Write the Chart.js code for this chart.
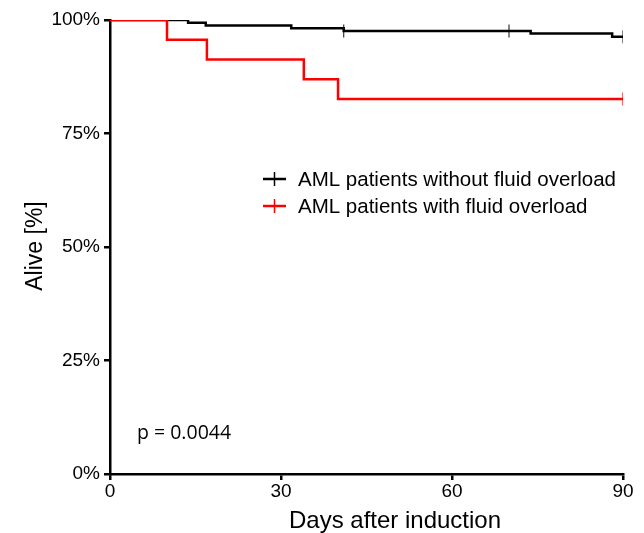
<!DOCTYPE html>
<html><head><meta charset="utf-8">
<script src="https://cdn.jsdelivr.net/npm/chart.js@4/dist/chart.umd.min.js"></script>
<style>html,body{margin:0;padding:0;background:#fff}#wrap{width:644px;height:533px}</style>
</head><body><div id="wrap"><canvas id="c" width="644" height="533"></canvas></div>
<script>
// Data
const seriesNames = ["AML patients without fluid overload", "AML patients with fluid overload"];
const noOverloadDays = [0, 13.7, 16.8, 31.8, 41, 73.8, 88.1, 90];
const noOverloadSurv = [100, 99.4, 98.8, 98.2, 97.6, 97.0, 96.3, 96.3];
const noOverloadCensorDays = [41, 70, 90];
const noOverloadCensorSurv = [97.6, 97.6, 96.3];
const overloadDays = [0, 10, 17, 34, 40, 90];
const overloadSurv = [100, 95.65, 91.3, 86.96, 82.61, 82.61];
const overloadCensorDays = [90];
const overloadCensorSurv = [82.61];
const xTicks = [0, 30, 60, 90];
const yTicks = [0, 25, 50, 75, 100];
const pValueText = "p = 0.0044";
const xTitle = "Days after induction";
const yTitle = "Alive [%]";

const pts = (xs, ys) => xs.map((x, i) => ({x: x, y: ys[i]}));
const FONT = '"Liberation Sans", Arial, Helvetica, sans-serif';

const overlay = {
  id: 'overlay',
  afterDraw(chart) {
    const ctx = chart.ctx;
    ctx.save();
    // legend
    const items = [[seriesNames[0], '#000000', 179], [seriesNames[1], '#ff0000', 206]];
    items.forEach(([t, col, y]) => {
      ctx.strokeStyle = col; ctx.lineWidth = 2.5;
      ctx.beginPath(); ctx.moveTo(263, y); ctx.lineTo(286, y); ctx.stroke();
      ctx.lineWidth = 1.5;
      ctx.beginPath(); ctx.moveTo(274.5, y - 7); ctx.lineTo(274.5, y + 7); ctx.stroke();
      ctx.fillStyle = '#000'; ctx.font = '20.5px ' + FONT;
      ctx.textBaseline = 'alphabetic'; ctx.textAlign = 'left';
      ctx.fillText(t, 298, y + 7);
    });
    // p-value
    ctx.font = '19.5px "Open Sans", sans-serif';
    ctx.fillText(pValueText, 137, 439);
    // axis titles
    ctx.font = '24px ' + FONT; ctx.textAlign = 'center';
    ctx.fillText(xTitle, 395, 528);
    ctx.font = '23px ' + FONT;
    ctx.translate(42, 246); ctx.rotate(-Math.PI / 2);
    ctx.fillText(yTitle, 0, 0);
    ctx.restore();
  }
};

new Chart(document.getElementById('c'), {
  type: 'line',
  data: {
    datasets: [
      {label: seriesNames[0], data: pts(noOverloadDays, noOverloadSurv), borderColor: '#000', borderWidth: 2.5, stepped: true, pointRadius: 0, fill: false, order: 2},
      {label: seriesNames[1], data: pts(overloadDays, overloadSurv), borderColor: '#ff0000', borderWidth: 2.5, stepped: true, pointRadius: 0, fill: false, order: 1},
      {label: 'c1', data: pts(noOverloadCensorDays, noOverloadCensorSurv), showLine: false, pointStyle: 'line', rotation: 90, pointRadius: 6.5, borderColor: '#333', borderWidth: 1.2, order: 3},
      {label: 'c2', data: pts(overloadCensorDays, overloadCensorSurv), showLine: false, pointStyle: 'line', rotation: 90, pointRadius: 6.5, borderColor: '#ff0000', borderWidth: 1.2, order: 0}
    ]
  },
  options: {
    responsive: false, animation: false,
    layout: {padding: {left: 0, right: 21, top: 20, bottom: 0}},
    plugins: {legend: {display: false}, tooltip: {enabled: false}},
    scales: {
      x: {
        type: 'linear', min: 0, max: 90,
        afterBuildTicks: s => { s.ticks = xTicks.map(v => ({value: v})); },
        afterFit: s => { s.height = 59; },
        grid: {display: true, drawOnChartArea: false, drawTicks: true, tickLength: 6, color: '#000', lineWidth: 2.5},
        border: {display: true, color: '#000', width: 2.5},
        ticks: {color: '#000', font: {family: FONT, size: 19}, padding: 0, maxRotation: 0}
      },
      y: {
        min: 0, max: 100,
        afterBuildTicks: s => { s.ticks = yTicks.map(v => ({value: v})); },
        afterFit: s => { s.width = 110; },
        grid: {display: true, drawOnChartArea: false, drawTicks: true, tickLength: 6, color: '#000', lineWidth: 2.5},
        border: {display: true, color: '#000', width: 2.5},
        ticks: {color: '#000', font: {family: FONT, size: 19}, padding: 4, callback: v => v + '%'}
      }
    }
  },
  plugins: [overlay]
});
</script></body></html>
